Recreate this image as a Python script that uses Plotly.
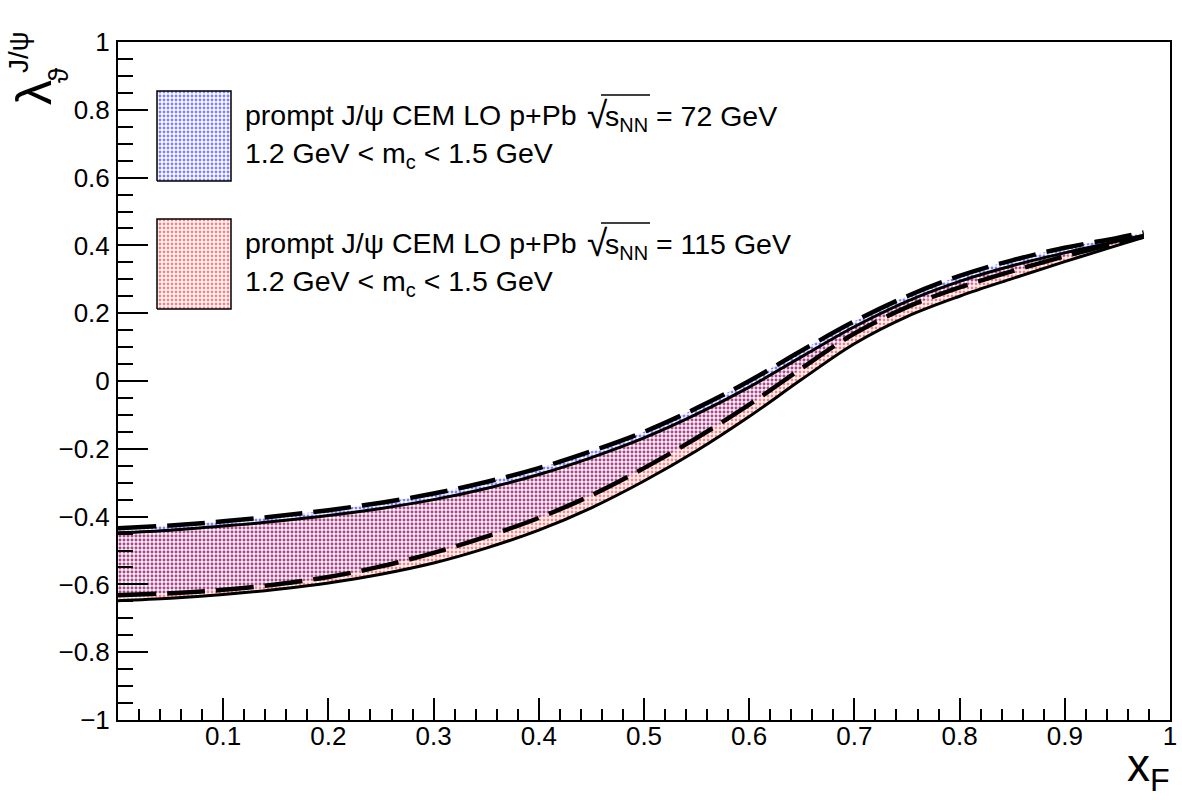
import plotly.graph_objects as go

# ---- data ----
x_f = [0.0, 0.05, 0.1, 0.15, 0.2, 0.25, 0.3, 0.35, 0.4, 0.45, 0.5,
       0.55, 0.6, 0.65, 0.7, 0.75, 0.8, 0.85, 0.9, 0.95, 0.975]

# sqrt(s_NN) = 72 GeV band (blue), edges drawn dashed
lam_72_upper = [-0.434, -0.426, -0.414, -0.399, -0.381, -0.359, -0.332, -0.298, -0.257, -0.207, -0.150,
                -0.080, 0.000, 0.090, 0.176, 0.250, 0.310, 0.356, 0.393, 0.422, 0.438]
lam_72_lower = [-0.632, -0.626, -0.616, -0.600, -0.578, -0.547, -0.507, -0.459, -0.404, -0.337, -0.257,
                -0.168, -0.070, 0.038, 0.140, 0.218, 0.276, 0.324, 0.368, 0.408, 0.426]

# sqrt(s_NN) = 115 GeV band (red), edges drawn solid
lam_115_upper = [-0.448, -0.440, -0.428, -0.414, -0.397, -0.376, -0.350, -0.317, -0.276, -0.226, -0.168,
                 -0.098, -0.018, 0.072, 0.160, 0.235, 0.294, 0.340, 0.378, 0.412, 0.430]
lam_115_lower = [-0.648, -0.641, -0.630, -0.615, -0.596, -0.570, -0.537, -0.493, -0.440, -0.374, -0.295,
                 -0.206, -0.105, 0.005, 0.110, 0.190, 0.250, 0.302, 0.352, 0.400, 0.424]

x_ticks = [0.1, 0.2, 0.3, 0.4, 0.5, 0.6, 0.7, 0.8, 0.9, 1.0]
x_tick_text = ["0.1", "0.2", "0.3", "0.4", "0.5", "0.6", "0.7", "0.8", "0.9", "1"]

legend_head = "prompt J/ψ CEM LO p+Pb"
legend_energy = ["s<sub>NN</sub> = 72 GeV", "s<sub>NN</sub> = 115 GeV"]
legend_mass = "1.2 GeV < m<sub>c</sub> < 1.5 GeV"
legend_colors = ["blue", "red"]

# ---- layout geometry (pixels) ----
W, H = 1182, 800
L, R, T, B = 118, 12, 42, 80
PW, PH = W - L - R, H - T - B
FONT = "Liberation Sans, Arial, Helvetica, sans-serif"
LEG_SIZE = 28.5


def px_x(px):
    return (px - L) / PW


def px_y(py):
    return (H - B - py) / PH


def pattern(color):
    return dict(shape=".", fgcolor=color, bgcolor="rgba(0,0,0,0)", size=4, solidity=0.42)


def note(text, px, py, size, xanchor="center", yanchor="middle", angle=0):
    fig.add_annotation(text=text, xref="paper", yref="paper", x=px_x(px), y=px_y(py),
                       xanchor=xanchor, yanchor=yanchor, textangle=angle, showarrow=False,
                       font=dict(family=FONT, size=size, color="black"))


fig = go.Figure()

# bands
for lo, up, col in [(lam_72_lower, lam_72_upper, "blue"), (lam_115_lower, lam_115_upper, "red")]:
    fig.add_trace(go.Scatter(x=x_f, y=lo, mode="lines", line=dict(width=0, shape="spline"),
                             showlegend=False, hoverinfo="skip"))
    fig.add_trace(go.Scatter(x=x_f, y=up, mode="lines", line=dict(width=0, shape="spline"),
                             fill="tonexty", fillcolor="rgba(0,0,0,0)", fillpattern=pattern(col),
                             showlegend=False, hoverinfo="skip"))

# edges
for y in (lam_115_upper, lam_115_lower):
    fig.add_trace(go.Scatter(x=x_f, y=y, mode="lines",
                             line=dict(color="black", width=3, shape="spline"),
                             showlegend=False, hoverinfo="skip"))
for y in (lam_72_upper, lam_72_lower):
    fig.add_trace(go.Scatter(x=x_f, y=y, mode="lines",
                             line=dict(color="black", width=4.5, dash="38px,11px", shape="spline"),
                             showlegend=False, hoverinfo="skip"))

# legend boxes (on an overlay axis in plot-fraction units) and texts
box_tops = [91, 219]
for col, energy, top in zip(legend_colors, legend_energy, box_tops):
    x0, x1 = px_x(157), px_x(231)
    y0, y1 = px_y(top + 90), px_y(top)
    fig.add_trace(go.Scatter(x=[x0, x1, x1, x0, x0], y=[y0, y0, y1, y1, y0], mode="lines",
                             xaxis="x2", yaxis="y2", fill="toself", fillcolor="rgba(0,0,0,0)",
                             fillpattern=pattern(col), line=dict(color="black", width=1.5),
                             showlegend=False, hoverinfo="skip"))
    note(legend_head, 243, top + 24, LEG_SIZE, xanchor="left")
    note("√", 597, top + 24, 37)
    note(energy, 603, top + 27, LEG_SIZE, xanchor="left")
    fig.add_shape(type="line", xref="paper", yref="paper",
                  x0=px_x(601), x1=px_x(650), y0=px_y(top + 4), y1=px_y(top + 4),
                  line=dict(color="black", width=1.5))
    note(legend_mass, 243, top + 64, LEG_SIZE, xanchor="left")

# axis titles
note("λ", 34, 93, 50, angle=-90)
note("ϑ", 59, 75, 28, angle=-90)
note("J/ψ", 19, 52, 28, angle=-90)
note("x<sub>F</sub>", 1172, 800, 46, xanchor="right", yanchor="bottom")

fig.update_layout(
    width=W, height=H,
    margin=dict(l=L, r=R, t=T, b=B, pad=0),
    paper_bgcolor="white", plot_bgcolor="white",
    showlegend=False,
    font=dict(family=FONT, size=26, color="black"),
    xaxis=dict(range=[0, 1], tickvals=x_ticks, ticktext=x_tick_text, ticks="inside", ticklen=22,
               tickwidth=1.5, tickcolor="black", showline=True, linecolor="black", linewidth=2,
               mirror=True, showgrid=False, zeroline=False, automargin=False, ticklabelstandoff=-8,
               tickfont=dict(family=FONT, size=26, color="black"),
               minor=dict(tick0=0, dtick=0.02, ticks="inside", ticklen=11, tickwidth=1.5,
                          tickcolor="black", showgrid=False)),
    yaxis=dict(range=[-1, 1], tick0=-1, dtick=0.2, ticks="inside", ticklen=30,
               tickwidth=1.5, tickcolor="black", showline=True, linecolor="black", linewidth=2,
               mirror=True, showgrid=False, zeroline=False, ticklabelstandoff=1, automargin=False,
               tickfont=dict(family=FONT, size=26, color="black"),
               minor=dict(tick0=-1, dtick=0.05, ticks="inside", ticklen=15, tickwidth=1.5,
                          tickcolor="black", showgrid=False)),
    xaxis2=dict(range=[0, 1], overlaying="x", visible=False, fixedrange=True),
    yaxis2=dict(range=[0, 1], overlaying="y", visible=False, fixedrange=True),
)

fig.write_html("out.html")
